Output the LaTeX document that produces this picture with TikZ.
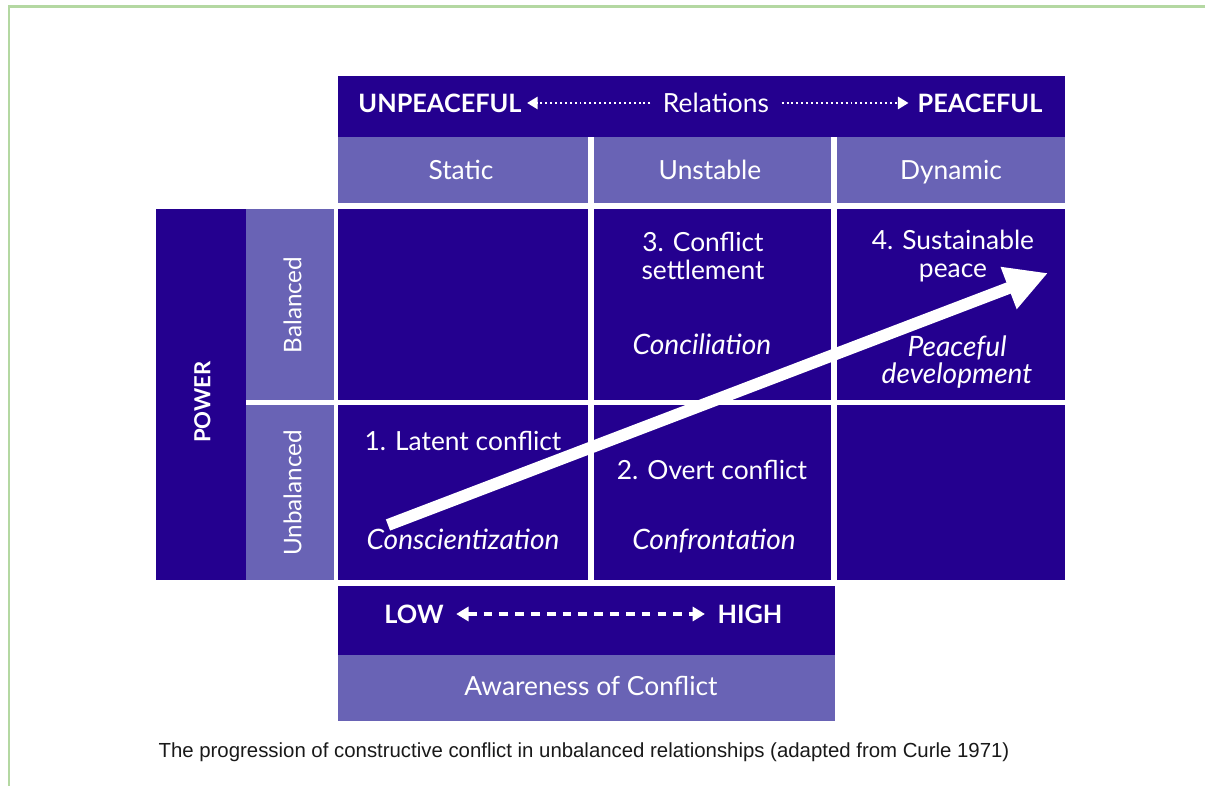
\documentclass[tikz,border=0pt]{standalone}
\usepackage{fontspec}
\setmainfont{Lato}
\newfontfamily\capfont{Liberation Sans}
\usetikzlibrary{arrows.meta}

\definecolor{deepviolet}{RGB}{36,0,143}
\definecolor{softviolet}{RGB}{105,99,181}
\definecolor{framegreen}{RGB}{180,216,162}
\definecolor{capgrey}{RGB}{25,25,25}

\begin{document}
\begin{tikzpicture}[x=0.02cm,y=-0.02cm,
    lbl/.style={text=white,inner sep=0pt,align=center,font=\fontsize{15}{15.5}\selectfont},
    oneline/.style={text height=10.8pt,text depth=0pt},
    boldlbl/.style={lbl,oneline,font=\fontsize{14.4}{15.5}\selectfont\bfseries},
    itlbl/.style={lbl,font=\fontsize{16}{15.5}\selectfont\itshape},
    sidelbl/.style={lbl,oneline,rotate=90,font=\fontsize{13.8}{15.5}\selectfont},
    dotarrow/.style={white,line width=1.2pt,dash pattern=on 1.1pt off 1.7pt,-{Triangle[length=6pt,width=7pt]}},
    dasharrow/.style={white,line width=1.8pt,dash pattern=on 5pt off 4pt,{Triangle[length=7pt,width=8pt]}-{Triangle[length=7pt,width=8pt]}},
    progress/.style={white,line width=6.8pt,-{Triangle[length=24pt,width=24pt]}}]
    \useasboundingbox (0,0) rectangle (1205,786);

    % green frame
    \draw[framegreen,line width=1.7pt] (9,786) -- (9,7) -- (1205,7);

    % relations header
    \fill[deepviolet] (338,76) rectangle (1065,137);
    \fill[softviolet] (338,137) rectangle (588,203);
    \fill[softviolet] (594,137) rectangle (831,203);
    \fill[softviolet] (837,137) rectangle (1065,203);

    % power column
    \fill[deepviolet] (156,209) rectangle (246,580);
    \fill[softviolet] (246,209) rectangle (334,400);
    \fill[softviolet] (246,405) rectangle (334,580);

    % the grid
    \foreach \xa/\xb in {338/588,594/831,837/1065}
        \foreach \ya/\yb in {209/400,405/580}
            \fill[deepviolet] (\xa,\ya) rectangle (\xb,\yb);

    % awareness footer
    \fill[deepviolet] (338,586) rectangle (835,655);
    \fill[softviolet] (338,655) rectangle (835,721);

    % header labels
    \node[boldlbl] (unp) at (440,103) {UNPEACEFUL};
    \node[lbl,oneline] (rel) at (716,103) {Relations};
    \node[boldlbl] (peac) at (980,103) {PEACEFUL};
    \draw[dotarrow,shorten <=7pt,shorten >=3pt] (rel.west) -- (unp.east |- rel.west);
    \draw[dotarrow,shorten <=7pt,shorten >=5pt] (rel.east) -- (peac.west |- rel.east);
    \node[lbl,oneline] (static) at (461,170) {Static};
    \node[lbl,oneline] (unstable) at (710,170) {Unstable};
    \node[lbl,oneline] (dynamic) at (951,170) {Dynamic};

    % power labels
    \node[sidelbl,font=\fontsize{12.6}{15.5}\selectfont\bfseries] (power) at (201,402) {POWER};
    \node[sidelbl] (bal) at (292,305) {Balanced};
    \node[sidelbl] (unbal) at (292,493) {Unbalanced};

    % cell texts
    \node[lbl] (settle) at (703,256) {3. Conflict\\settlement};
    \node[itlbl,oneline] (concil) at (702,345) {Conciliation};
    \node[lbl] (sustain) at (953,256) {4. Sustainable\\peace};
    \node[itlbl] (peacedev) at (957,362) {Peaceful\\development};
    \node[lbl,oneline] (latent) at (463,441) {1. Latent conflict};
    \node[itlbl,oneline] (consc) at (463,540) {Conscientization};
    \node[lbl,oneline] (overt) at (712,470) {2. Overt conflict};
    \node[itlbl,oneline] (confront) at (714,540) {Confrontation};

    % progression arrow
    \coordinate (from) at (388,525);
    \coordinate (to) at (1048,273);
    \draw[progress] (from) -- (to);

    % awareness labels
    \node[boldlbl] (low) at (414,614) {LOW};
    \node[boldlbl] (high) at (750,614) {HIGH};
    \draw[dasharrow,shorten <=7pt,shorten >=7pt] (low.east) -- (high.west |- low.east);
    \node[lbl,oneline] (aware) at (591,686) {Awareness of Conflict};

    % caption
    \node[inner sep=0pt,text=capgrey,font=\capfont\fontsize{11.6}{13}\selectfont] (caption) at (584,752)
        {The progression of constructive conflict in unbalanced relationships (adapted from Curle 1971)};
\end{tikzpicture}
\end{document}
